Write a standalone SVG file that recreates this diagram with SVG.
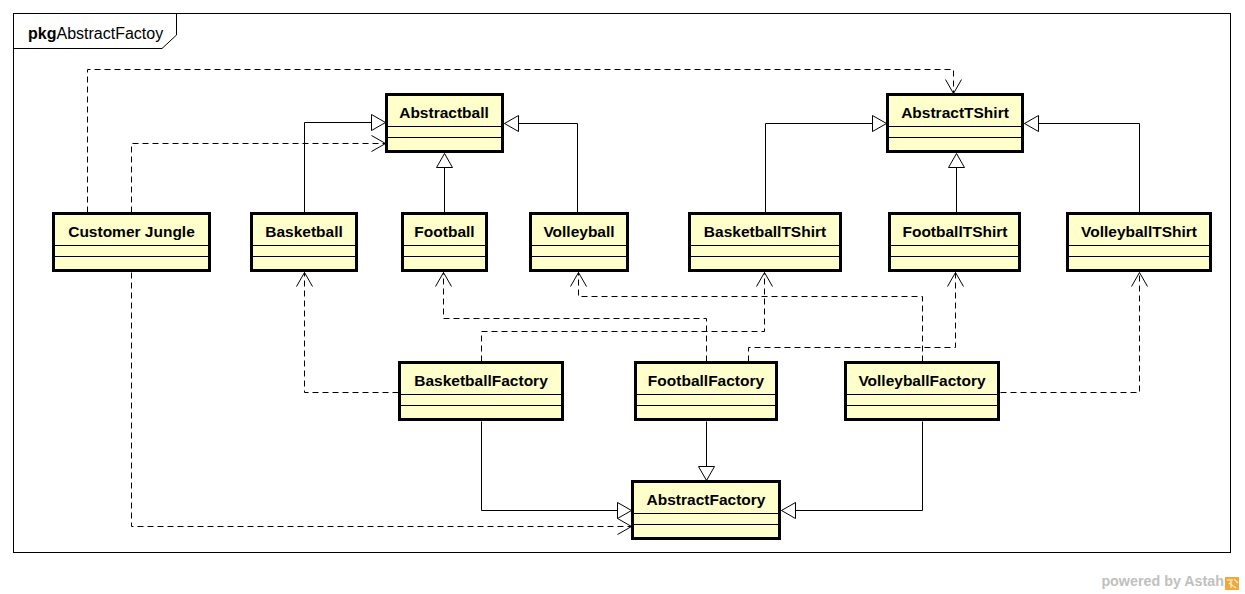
<svg xmlns="http://www.w3.org/2000/svg" width="1245" height="594" viewBox="0 0 1245 594">
<style>
.frame{fill:none;stroke:#000;stroke-width:1}
.box{fill:#FFFFCC;stroke:#000;stroke-width:3}
.sep{stroke:#000;stroke-width:1}
.name{font-family:"Liberation Sans",Arial,sans-serif;font-weight:bold;font-size:15.5px;fill:#000;text-anchor:middle}
.gen{fill:none;stroke:#000;stroke-width:1}
.dep{fill:none;stroke:#000;stroke-width:1;stroke-dasharray:6 4}
.pkg{font-family:"Liberation Sans",Arial,sans-serif;font-size:16px;fill:#000}
.astah{font-family:"Liberation Sans",Arial,sans-serif;font-weight:bold;font-size:14.3px;fill:#c0c0c0;text-anchor:end}
</style>
<defs>
<marker id="tri" markerUnits="userSpaceOnUse" markerWidth="18" markerHeight="20" viewBox="0 -10 18 20" refX="15" refY="0" orient="auto">
<path d="M1,-8 L15,0 L1,8 Z" fill="#fff" stroke="#000" stroke-width="1"/>
</marker>
<marker id="open" markerUnits="userSpaceOnUse" markerWidth="18" markerHeight="20" viewBox="0 -10 18 20" refX="15" refY="0" orient="auto">
<path d="M1,-8 L15,0 L1,8" fill="none" stroke="#000" stroke-width="1" stroke-dasharray="none"/>
</marker>
</defs>
<rect x="0" y="0" width="1245" height="594" fill="#fff"/>
<g id="package">
<rect class="frame" x="13.5" y="13.5" width="1217" height="539"/>
<path class="frame" d="M13.5,48.5 H162 L176.5,35 V13.5"/>
<text class="pkg" x="28" y="39"><tspan font-weight="bold">pkg</tspan>AbstractFactoy</text>
</g>
<g id="connectors" transform="translate(0.5,0.5)">
<path class="gen" d="M304,212 V122 H385" marker-end="url(#tri)"/>
<path class="gen" d="M444,212 V153" marker-end="url(#tri)"/>
<path class="gen" d="M577,212 V123 H504" marker-end="url(#tri)"/>
<path class="gen" d="M765,212 V123 H886" marker-end="url(#tri)"/>
<path class="gen" d="M956,212 V153" marker-end="url(#tri)"/>
<path class="gen" d="M1139,212 V123 H1024" marker-end="url(#tri)"/>
<path class="gen" d="M481,421 V510 H631" marker-end="url(#tri)"/>
<path class="gen" d="M706,421 V480" marker-end="url(#tri)"/>
<path class="gen" d="M922,421 V510 H781" marker-end="url(#tri)"/>
<path class="dep" d="M87,212 V69 H953 V93" marker-end="url(#open)"/>
<path class="dep" d="M131,212 V143 H385" marker-end="url(#open)"/>
<path class="dep" d="M131,272 V526 H631" marker-end="url(#open)"/>
<path class="dep" d="M398,392 H304 V272" marker-end="url(#open)"/>
<path class="dep" d="M481,361 V331 H764 V272" marker-end="url(#open)"/>
<path class="dep" d="M706,361 V318 H443 V272" marker-end="url(#open)"/>
<path class="dep" d="M748,361 V347 H955 V272" marker-end="url(#open)"/>
<path class="dep" d="M922,361 V296 H578 V272" marker-end="url(#open)"/>
<path class="dep" d="M1000,392 H1139 V272" marker-end="url(#open)"/>
</g>
<g id="Abstractball">
<rect class="box" x="386.5" y="94.5" width="116" height="57"/>
<line class="sep" x1="388" y1="126.5" x2="503" y2="126.5"/>
<line class="sep" x1="388" y1="137.5" x2="503" y2="137.5"/>
<text class="name" x="444" y="118">Abstractball</text>
</g>
<g id="AbstractTShirt">
<rect class="box" x="887.5" y="94.5" width="135" height="57"/>
<line class="sep" x1="889" y1="126.5" x2="1022" y2="126.5"/>
<line class="sep" x1="889" y1="137.5" x2="1022" y2="137.5"/>
<text class="name" x="955" y="118">AbstractTShirt</text>
</g>
<g id="CustomerJungle">
<rect class="box" x="53.5" y="213.5" width="156" height="57"/>
<line class="sep" x1="55" y1="245.5" x2="209" y2="245.5"/>
<line class="sep" x1="55" y1="256.5" x2="209" y2="256.5"/>
<text class="name" x="131.5" y="237">Customer Jungle</text>
</g>
<g id="Basketball">
<rect class="box" x="251.5" y="213.5" width="105" height="57"/>
<line class="sep" x1="253" y1="245.5" x2="356" y2="245.5"/>
<line class="sep" x1="253" y1="256.5" x2="356" y2="256.5"/>
<text class="name" x="304" y="237">Basketball</text>
</g>
<g id="Football">
<rect class="box" x="402.5" y="213.5" width="84" height="57"/>
<line class="sep" x1="404" y1="245.5" x2="486" y2="245.5"/>
<line class="sep" x1="404" y1="256.5" x2="486" y2="256.5"/>
<text class="name" x="444.5" y="237">Football</text>
</g>
<g id="Volleyball">
<rect class="box" x="530.5" y="213.5" width="97" height="57"/>
<line class="sep" x1="532" y1="245.5" x2="627" y2="245.5"/>
<line class="sep" x1="532" y1="256.5" x2="627" y2="256.5"/>
<text class="name" x="579" y="237">Volleyball</text>
</g>
<g id="BasketballTShirt">
<rect class="box" x="689.5" y="213.5" width="151" height="57"/>
<line class="sep" x1="691" y1="245.5" x2="840" y2="245.5"/>
<line class="sep" x1="691" y1="256.5" x2="840" y2="256.5"/>
<text class="name" x="765" y="237">BasketballTShirt</text>
</g>
<g id="FootballTShirt">
<rect class="box" x="889.5" y="213.5" width="130" height="57"/>
<line class="sep" x1="891" y1="245.5" x2="1019" y2="245.5"/>
<line class="sep" x1="891" y1="256.5" x2="1019" y2="256.5"/>
<text class="name" x="955" y="237">FootballTShirt</text>
</g>
<g id="VolleyballTShirt">
<rect class="box" x="1067.5" y="213.5" width="143" height="57"/>
<line class="sep" x1="1069" y1="245.5" x2="1210" y2="245.5"/>
<line class="sep" x1="1069" y1="256.5" x2="1210" y2="256.5"/>
<text class="name" x="1139" y="237">VolleyballTShirt</text>
</g>
<g id="BasketballFactory">
<rect class="box" x="399.5" y="362.5" width="163" height="57"/>
<line class="sep" x1="401" y1="394.5" x2="562" y2="394.5"/>
<line class="sep" x1="401" y1="405.5" x2="562" y2="405.5"/>
<text class="name" x="481" y="386">BasketballFactory</text>
</g>
<g id="FootballFactory">
<rect class="box" x="635.5" y="362.5" width="141" height="57"/>
<line class="sep" x1="637" y1="394.5" x2="776" y2="394.5"/>
<line class="sep" x1="637" y1="405.5" x2="776" y2="405.5"/>
<text class="name" x="706" y="386">FootballFactory</text>
</g>
<g id="VolleyballFactory">
<rect class="box" x="845.5" y="362.5" width="153" height="57"/>
<line class="sep" x1="847" y1="394.5" x2="998" y2="394.5"/>
<line class="sep" x1="847" y1="405.5" x2="998" y2="405.5"/>
<text class="name" x="922" y="386">VolleyballFactory</text>
</g>
<g id="AbstractFactory">
<rect class="box" x="632.5" y="481.5" width="147" height="57"/>
<line class="sep" x1="634" y1="513.5" x2="779" y2="513.5"/>
<line class="sep" x1="634" y1="524.5" x2="779" y2="524.5"/>
<text class="name" x="706" y="505">AbstractFactory</text>
</g>
<g id="astah">
<text class="astah" x="1224" y="586">powered by Astah</text>
<rect x="1225" y="577" width="14" height="13" fill="#F2A93B"/>
<path d="M1227,580 H1233 M1231,580 V588 M1229,583 L1236,588 M1234,579 L1238,583" stroke="#FCE3B8" stroke-width="1.5" fill="none"/>
</g>
</svg>
